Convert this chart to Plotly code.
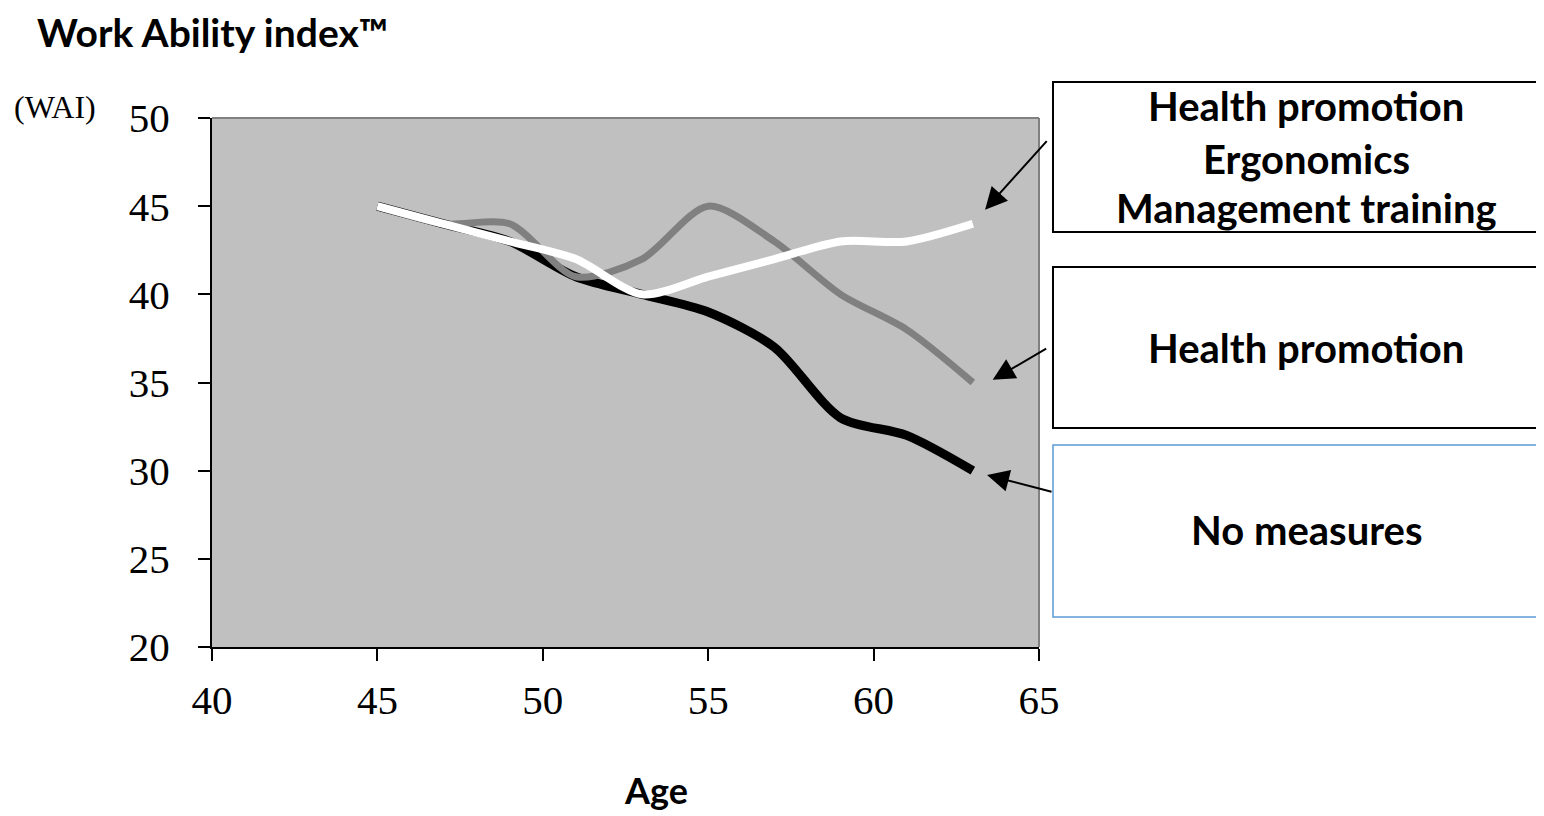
import plotly.graph_objects as go

ages = [45, 47, 49, 51, 53, 55, 57, 59, 61, 63]
no_measures = [45, 44, 43, 41, 40, 39, 37, 33, 32, 30]
health_promotion = [45, 44, 44, 41, 42, 45, 43, 40, 38, 35]
combined = [45, 44, 43, 42, 40, 41, 42, 43, 43, 44]

x_ticks = [40, 45, 50, 55, 60, 65]
y_ticks = [20, 25, 30, 35, 40, 45, 50]

box_labels = [
    ["Health promotion", "Ergonomics", "Management training"],
    ["Health promotion"],
    ["No measures"],
]

fig = go.Figure()
fig.add_trace(go.Scatter(x=ages, y=no_measures, mode="lines",
                         line=dict(color="black", width=9, shape="spline", smoothing=0.8),
                         name="No measures"))
fig.add_trace(go.Scatter(x=ages, y=health_promotion, mode="lines",
                         line=dict(color="#808080", width=7, shape="spline", smoothing=0.8),
                         name="Health promotion"))
fig.add_trace(go.Scatter(x=ages, y=combined, mode="lines",
                         line=dict(color="white", width=8, shape="spline", smoothing=0.8),
                         name="Combined"))

serif = "Liberation Serif"
sans = "Lato"

# the page places the figure 8px from the top-left corner
fig.update_layout(
    width=1536, height=808,
    margin=dict(l=204, r=505, t=110, b=169),
    paper_bgcolor="white",
    plot_bgcolor="#C0C0C0",
    showlegend=False,
    xaxis=dict(range=[40, 65], tickvals=x_ticks, showgrid=False, zeroline=False,
               showline=True, linecolor="black", linewidth=2, ticks="outside",
               ticklen=12, tickwidth=2, tickcolor="black", ticklabelstandoff=4,
               tickfont=dict(family=serif, size=41, color="black")),
    yaxis=dict(range=[20, 50], tickvals=y_ticks, showgrid=False, zeroline=False,
               showline=True, linecolor="black", linewidth=2, ticks="outside",
               ticklen=12, tickwidth=2, tickcolor="black", ticklabelstandoff=20,
               tickfont=dict(family=serif, size=41, color="black")),
)

# gray border top/right of plot area
fig.add_shape(type="line", xref="paper", yref="paper", x0=0, x1=1, y0=1, y1=1,
              line=dict(color="#808080", width=2))
fig.add_shape(type="line", xref="paper", yref="paper", x0=1, x1=1, y0=0, y1=1,
              line=dict(color="#808080", width=2))

def px_x(p):
    return (p - 212) / 827.0

def px_y(p):
    return (647 - p) / 529.0

# boxes
boxes = [
    (1053, 82, 1560, 232, "black", 2),
    (1053, 267, 1560, 428, "black", 2),
    (1053, 445, 1560, 617, "#5B9BD5", 1.5),
]
for x0, y0, x1, y1, col, w in boxes:
    fig.add_shape(type="rect", xref="paper", yref="paper",
                  x0=px_x(x0), x1=px_x(x1), y0=px_y(y1), y1=px_y(y0),
                  line=dict(color=col, width=w), fillcolor="white")

# box texts
line_ys = [[106, 159, 208], [348], [530]]
for labels, ys in zip(box_labels, line_ys):
    for lab, yy in zip(labels, ys):
        fig.add_annotation(text="<b>%s</b>" % lab, xref="paper", yref="paper",
                           x=px_x(1306), y=px_y(yy), showarrow=False,
                           xanchor="center", yanchor="middle",
                           font=dict(family=sans, size=40, color="black"))

# arrows
arrows = [
    (63.37, 44.8, 63, -70),
    (63.6, 35.15, 55, -32),
    (63.43, 29.75, 66, 17),
]
for hx, hy, ax, ay in arrows:
    fig.add_annotation(x=hx, y=hy, xref="x", yref="y", ax=ax, ay=ay,
                       showarrow=True, arrowhead=2, arrowsize=2.2, arrowwidth=2,
                       arrowcolor="black", text="")

# titles
fig.add_annotation(text="<b>Work Ability index™</b>", xref="paper", yref="paper",
                   x=px_x(35), y=px_y(32), xanchor="left", yanchor="middle",
                   showarrow=False, font=dict(family=sans, size=39, color="black"))
fig.add_annotation(text="(WAI)", xref="paper", yref="paper",
                   x=px_x(12), y=px_y(107), xanchor="left", yanchor="middle",
                   showarrow=False, font=dict(family=serif, size=32, color="black"))
fig.add_annotation(text="<b>Age</b>", xref="paper", yref="paper",
                   x=px_x(656), y=px_y(790), xanchor="center", yanchor="middle",
                   showarrow=False, font=dict(family=sans, size=36, color="black"))

fig.write_html("out.html")
